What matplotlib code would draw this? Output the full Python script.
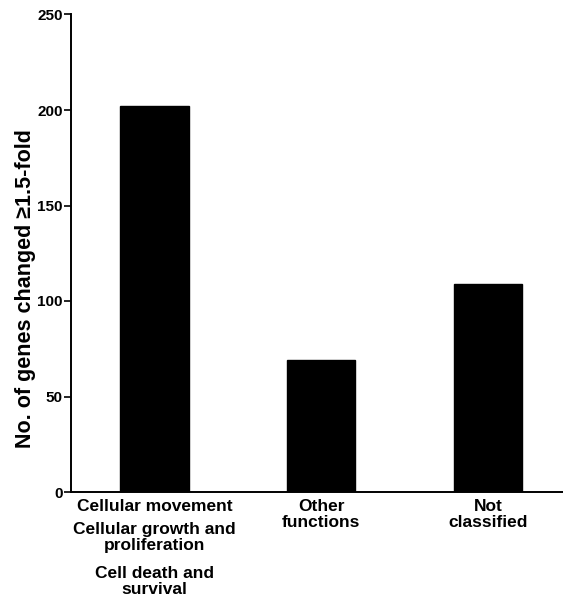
import matplotlib
matplotlib.use("Agg")
import matplotlib.pyplot as plt

# Gene counts per functional category
categories = ["Cellular movement", "Other\nfunctions", "Not\nclassified"]
counts = [202, 69, 109]
# Additional functional groups listed under the first category
extra_groups = ["Cellular growth and\nproliferation", "Cell death and\nsurvival"]
yticks = [0, 50, 100, 150, 200, 250]

plt.rcParams["font.family"] = ["Liberation Sans", "DejaVu Sans"]
plt.rcParams["font.weight"] = "bold"

fig = plt.figure(figsize=(5.63, 6.01), dpi=100)
ax = fig.add_axes([71 / 563, 1 - 492 / 601, (563 - 71) / 563, (492 - 14.5) / 601])

x = list(range(len(categories)))
ax.bar(x, counts, width=0.41, color="black", edgecolor="black")

ax.set_xlim(-0.5, 2.45)
ax.set_ylim(0, 250)
ax.set_yticks(yticks)
ax.set_yticklabels([str(t) for t in yticks], fontsize=11, fontweight="bold")
ax.set_xticks(x)
ax.set_xticklabels(categories, fontsize=12.5, fontweight="bold", linespacing=1.12)
ax.tick_params(axis="x", length=0, pad=4.7)
ax.tick_params(axis="y", length=5, width=1.2, direction="out", pad=1)

for side in ("top", "right"):
    ax.spines[side].set_visible(False)
ax.spines["left"].set_linewidth(1.4)
ax.spines["bottom"].set_linewidth(1.4)

ax.set_ylabel("No. of genes changed \u22651.5-fold", fontsize=15.5, fontweight="bold")
ax.yaxis.label.set_verticalalignment("center")
ax.yaxis.set_label_coords(-0.0915, 0.425)

# Stack the extra group names beneath the first category label
offsets = [-30, -74]
for text, dy in zip(extra_groups, offsets):
    ax.annotate(text, xy=(x[0], 0), xycoords=("data", "axes fraction"),
                xytext=(0, dy), textcoords="offset pixels",
                ha="center", va="top", fontsize=12.5, fontweight="bold",
                linespacing=1.12)

fig.savefig("out.png", dpi=100)
